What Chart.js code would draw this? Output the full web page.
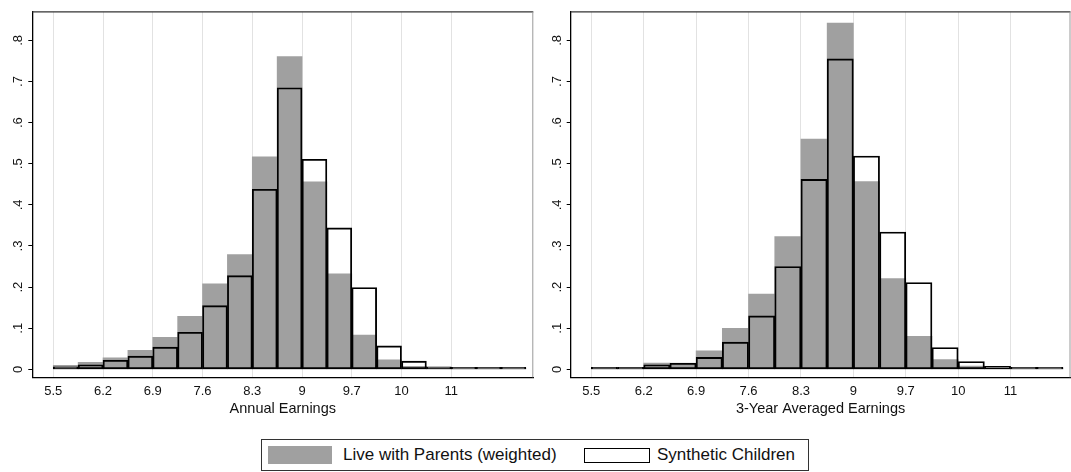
<!DOCTYPE html>
<html lang="en">
<head>
<meta charset="UTF-8">
<title>Earnings histograms</title>
<script src="https://cdn.jsdelivr.net/npm/chart.js"></script>
<style>
    body { margin: 0; background: #fff; width: 1071px; height: 472px; position: relative; overflow: hidden; font-family: "Liberation Sans", Arial, sans-serif; }
    canvas { position: absolute; top: 0; }
    #graficoEsq { left: 0; }
    #graficoDir { left: 540px; }
    #legenda { position: absolute; left: 261px; top: 439px; width: 546px; height: 30px; border: 1px solid #333; }
    .amostra { position: absolute; box-sizing: border-box; }
    .rotulo { position: absolute; top: 0; line-height: 30px; font-size: 17px; color: #111; white-space: nowrap; }
</style>
</head>
<body>
<canvas id="graficoEsq" width="540" height="420"></canvas>
<canvas id="graficoDir" width="531" height="420"></canvas>

<div id="legenda">
    <div class="amostra" style="left:6px; top:6px; width:64px; height:18px; background:#a0a0a0;"></div>
    <div class="rotulo" style="left:81px;">Live with Parents (weighted)</div>
    <div class="amostra" style="left:322px; top:8px; width:66px; height:15px; border:1.5px solid #000;"></div>
    <div class="rotulo" style="left:395px;">Synthetic Children</div>
</div>

<script>
    // bin centres (bin width 0.35)
    const binsAnnual = [5.675, 6.025, 6.375, 6.725, 7.075, 7.425, 7.775, 8.125, 8.475, 8.825,
        9.175, 9.525, 9.875, 10.225, 10.575, 10.925, 11.275, 11.625, 11.975];
    const binsAvg = [5.675, 6.025, 6.375, 6.725, 7.075, 7.425, 7.775, 8.125, 8.475, 8.825,
        9.175, 9.525, 9.875, 10.225, 10.575, 10.925, 11.275, 11.625];

    const parentsAnnual = [0.010, 0.017, 0.028, 0.046, 0.078, 0.129, 0.208, 0.279, 0.517, 0.761,
        0.456, 0.232, 0.083, 0.023, 0.007, 0.004, 0.001, 0.001, 0.001];
    const syntheticAnnual = [0.006, 0.011, 0.022, 0.032, 0.054, 0.090, 0.155, 0.228, 0.438, 0.685,
        0.511, 0.344, 0.199, 0.057, 0.020, 0.006, 0.002, 0.001, 0.001];

    const parentsAvg = [0.003, 0.003, 0.015, 0.012, 0.045, 0.100, 0.183, 0.323, 0.560, 0.842,
        0.457, 0.221, 0.080, 0.024, 0.008, 0.005, 0.002, 0.001];
    const syntheticAvg = [0.002, 0.003, 0.011, 0.015, 0.029, 0.066, 0.130, 0.250, 0.462, 0.755,
        0.519, 0.334, 0.211, 0.053, 0.019, 0.007, 0.002, 0.001];

    const xTicks = [5.5, 6.2, 6.9, 7.6, 8.3, 9, 9.7, 10.4, 11.1];
    const xTickLabels = ["5.5", "6.2", "6.9", "7.6", "8.3", "9", "9.7", "10", "11"];
    const yTicks = [0, 0.1, 0.2, 0.3, 0.4, 0.5, 0.6, 0.7, 0.8];
    const yTickLabels = ["0", ".1", ".2", ".3", ".4", ".5", ".6", ".7", ".8"];

    const fonte = "'Liberation Sans', Arial, sans-serif";

    // moldura: linha de cima e da direita
    const moldura = {
        id: 'moldura',
        afterDraw(chart) {
            const a = chart.chartArea;
            const ctx = chart.ctx;
            ctx.save();
            ctx.lineWidth = 1.3;
            ctx.strokeStyle = '#333';
            ctx.beginPath();
            ctx.moveTo(a.left, a.top);
            ctx.lineTo(a.right, a.top);
            ctx.stroke();
            ctx.strokeStyle = '#999';
            ctx.lineWidth = 1;
            ctx.beginPath();
            ctx.moveTo(a.right - 0.5, a.top);
            ctx.lineTo(a.right - 0.5, a.bottom);
            ctx.stroke();
            ctx.restore();
        }
    };

    function criarHistograma(id, bins, parents, synthetic, titulo, xMin, xMax, yWidth, padRight) {
        const ctx = document.getElementById(id).getContext('2d');
        return new Chart(ctx, {
            type: 'bar',
            data: {
                datasets: [
                    {
                        label: 'Synthetic Children',
                        data: bins.map((b, i) => ({ x: b, y: synthetic[i] })),
                        backgroundColor: 'rgba(0,0,0,0)',
                        borderColor: '#000',
                        borderWidth: 1.2,
                        borderSkipped: false,
                        minBarLength: 2,
                        order: 0
                    },
                    {
                        label: 'Live with Parents (weighted)',
                        data: bins.map((b, i) => ({ x: b, y: parents[i] })),
                        backgroundColor: '#a0a0a0',
                        borderWidth: 0,
                        order: 1
                    }
                ]
            },
            options: {
                responsive: false,
                animation: false,
                grouped: false,
                categoryPercentage: 1.0,
                barPercentage: 1.0,
                layout: { padding: { top: 11, right: padRight, bottom: 2, left: 0 } },
                plugins: { legend: { display: false }, tooltip: { enabled: false } },
                scales: {
                    x: {
                        type: 'linear',
                        offset: false,
                        min: xMin,
                        max: xMax,
                        afterBuildTicks: s => { s.ticks = xTicks.map(v => ({ value: v })); },
                        afterFit: s => { s.height = 40.7; },
                        ticks: {
                            autoSkip: false,
                            maxRotation: 0,
                            padding: 6,
                            color: '#111',
                            font: { family: fonte, size: 13 },
                            callback: (v, i) => xTickLabels[i]
                        },
                        grid: { offset: false, color: '#e2e2e2', lineWidth: 1, drawTicks: false },
                        border: { color: '#000', width: 1.3 },
                        title: {
                            display: true,
                            text: titulo,
                            color: '#111',
                            font: { family: fonte, size: 14.5 },
                            padding: { top: 2, bottom: 0 }
                        }
                    },
                    y: {
                        min: -0.0194,
                        max: 0.8697,
                        afterBuildTicks: s => { s.ticks = yTicks.map(v => ({ value: v })); },
                        afterFit: s => { s.width = yWidth; },
                        ticks: {
                            minRotation: 90,
                            maxRotation: 90,
                            crossAlign: 'center',
                            padding: 4,
                            color: '#111',
                            font: { family: fonte, size: 13 },
                            callback: (v, i) => yTickLabels[i]
                        },
                        grid: { drawOnChartArea: false, drawTicks: true, tickLength: 4, tickColor: '#000', tickWidth: 1 },
                        border: { color: '#000', width: 1.3 }
                    }
                }
            },
            plugins: [moldura]
        });
    }

    window.onload = function () {
        criarHistograma('graficoEsq', binsAnnual, parentsAnnual, syntheticAnnual,
            'Annual Earnings', 5.205, 12.254, 32.3, 6.7);
        criarHistograma('graficoDir', binsAvg, parentsAvg, syntheticAvg,
            '3-Year Averaged Earnings', 5.225, 11.90, 30.7, 0.5);
    };
</script>
</body>
</html>
